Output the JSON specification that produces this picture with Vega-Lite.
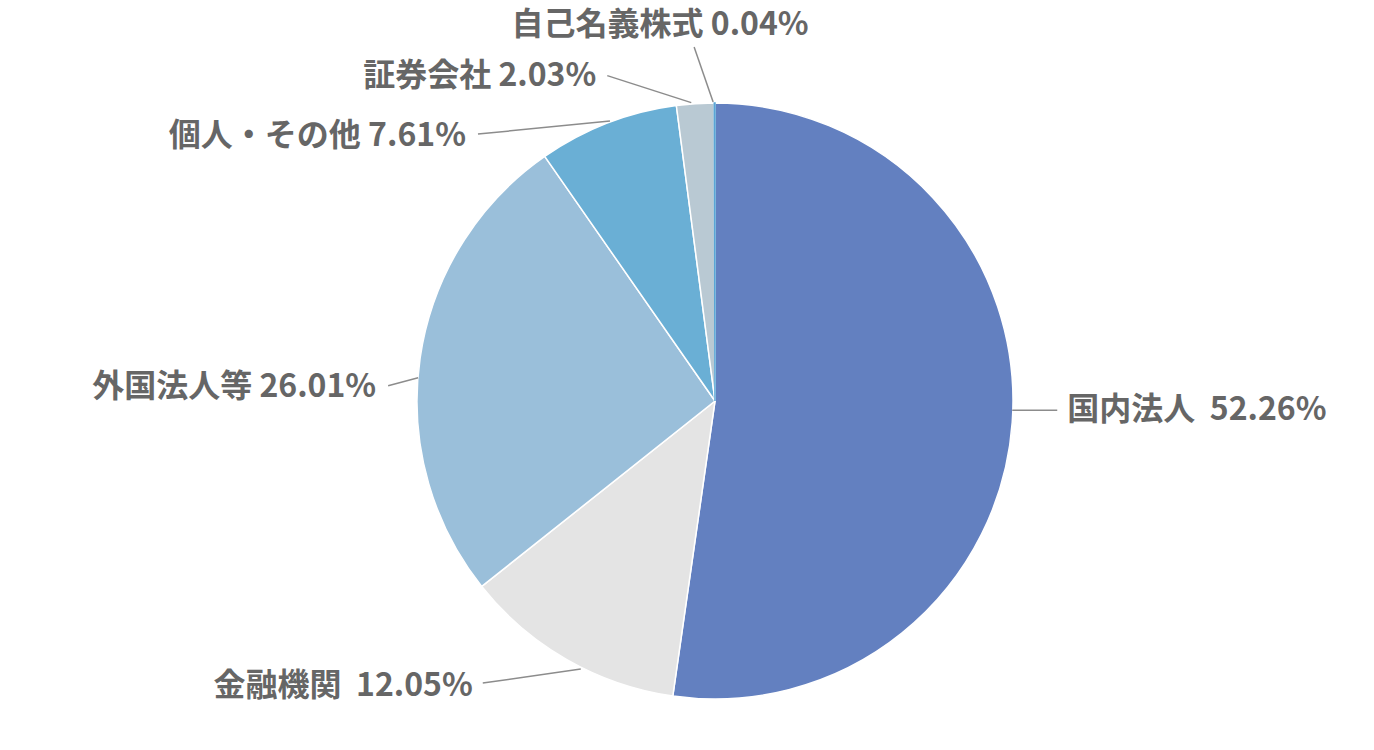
{
  "$schema": "https://vega.github.io/schema/vega-lite/v6.json",
  "width": 1318,
  "height": 698,
  "padding": {"left": 56, "top": 52, "right": 0, "bottom": 0},
  "autosize": {"type": "none"},
  "background": "white",
  "config": {
    "view": {"stroke": null},
    "text": {"font": "Noto Sans CJK JP", "fontSize": 32, "fontWeight": "bold", "fill": "#666666", "baseline": "middle"},
    "rule": {"stroke": "#8c8c8c", "strokeWidth": 1.5}
  },
  "data": {
    "values": [
      {"category": "国内法人", "value": 52.26, "order": 1, "label": "国内法人\u00a0 52.26%"},
      {"category": "金融機関", "value": 12.05, "order": 2, "label": "金融機関\u00a0 12.05%"},
      {"category": "外国法人等", "value": 26.01, "order": 3, "label": "外国法人等 26.01%"},
      {"category": "個人・その他", "value": 7.61, "order": 4, "label": "個人・その他 7.61%"},
      {"category": "証券会社", "value": 2.03, "order": 5, "label": "証券会社 2.03%"},
      {"category": "自己名義株式", "value": 0.04, "order": 6, "label": "自己名義株式 0.04%"}
    ]
  },
  "transform": [
    {"window": [{"op": "sum", "field": "value", "as": "cum"}], "sort": [{"field": "order"}], "frame": [null, 0]},
    {"calculate": "(datum.cum - datum.value / 2) * 2 * PI / 100", "as": "ang"},
    {"calculate": "298 * sin(datum.ang)", "as": "ex"},
    {"calculate": "298 * cos(datum.ang)", "as": "ey"}
  ],
  "layer": [
    {
      "mark": {"type": "arc", "outerRadius": 298, "strokeWidth": 1.5},
      "encoding": {
        "theta": {"field": "value", "type": "quantitative", "stack": true},
        "order": {"field": "order", "type": "quantitative", "sort": "ascending"},
        "color": {
          "field": "category", "type": "nominal", "legend": null,
          "scale": {
            "domain": ["国内法人", "金融機関", "外国法人等", "個人・その他", "証券会社", "自己名義株式"],
            "range": ["#6380c0", "#e4e4e4", "#9abfda", "#6aafd5", "#b9c9d3", "#5aa5d5"]
          }
        },
        "stroke": {"condition": {"test": "datum.category === '自己名義株式'", "value": "#5aa5d5"}, "value": "white"}
      }
    },
    {
      "transform": [{"filter": "datum.category === '国内法人'"}],
      "mark": {"type": "rule", "yOffset": -12, "x2Offset": 45, "y2Offset": -12},
      "encoding": {
        "x": {"field": "ex", "type": "quantitative", "scale": {"domain": [-659, 659], "nice": false, "zero": false}, "axis": null},
        "y": {"field": "ey", "type": "quantitative", "scale": {"domain": [-349, 349], "nice": false, "zero": false}, "axis": null},
        "x2": {"field": "ex"}, "y2": {"field": "ey"}
      }
    },
    {
      "transform": [{"filter": "datum.category === '金融機関'"}],
      "mark": {"type": "rule", "xOffset": 14, "yOffset": 9.5, "x2Offset": -84, "y2Offset": 23.5},
      "encoding": {
        "x": {"field": "ex", "type": "quantitative", "scale": {"domain": [-659, 659], "nice": false, "zero": false}, "axis": null},
        "y": {"field": "ey", "type": "quantitative", "scale": {"domain": [-349, 349], "nice": false, "zero": false}, "axis": null},
        "x2": {"field": "ex"}, "y2": {"field": "ey"}
      }
    },
    {
      "transform": [{"filter": "datum.category === '外国法人等'"}],
      "mark": {"type": "rule", "xOffset": -2, "yOffset": 20, "x2Offset": -32, "y2Offset": 28},
      "encoding": {
        "x": {"field": "ex", "type": "quantitative", "scale": {"domain": [-659, 659], "nice": false, "zero": false}, "axis": null},
        "y": {"field": "ey", "type": "quantitative", "scale": {"domain": [-349, 349], "nice": false, "zero": false}, "axis": null},
        "x2": {"field": "ex"}, "y2": {"field": "ey"}
      }
    },
    {
      "transform": [{"filter": "datum.category === '個人・その他'"}],
      "mark": {"type": "rule", "xOffset": 2.5, "yOffset": -2, "x2Offset": -129.5, "y2Offset": 11},
      "encoding": {
        "x": {"field": "ex", "type": "quantitative", "scale": {"domain": [-659, 659], "nice": false, "zero": false}, "axis": null},
        "y": {"field": "ey", "type": "quantitative", "scale": {"domain": [-349, 349], "nice": false, "zero": false}, "axis": null},
        "x2": {"field": "ex"}, "y2": {"field": "ey"}
      }
    },
    {
      "transform": [{"filter": "datum.category === '証券会社'"}],
      "mark": {"type": "rule", "xOffset": -4, "yOffset": -1, "x2Offset": -88, "y2Offset": -28},
      "encoding": {
        "x": {"field": "ex", "type": "quantitative", "scale": {"domain": [-659, 659], "nice": false, "zero": false}, "axis": null},
        "y": {"field": "ey", "type": "quantitative", "scale": {"domain": [-349, 349], "nice": false, "zero": false}, "axis": null},
        "x2": {"field": "ex"}, "y2": {"field": "ey"}
      }
    },
    {
      "transform": [{"filter": "datum.category === '自己名義株式'"}],
      "mark": {"type": "rule", "xOffset": -1.5, "yOffset": -1, "x2Offset": -20.5, "y2Offset": -56},
      "encoding": {
        "x": {"field": "ex", "type": "quantitative", "scale": {"domain": [-659, 659], "nice": false, "zero": false}, "axis": null},
        "y": {"field": "ey", "type": "quantitative", "scale": {"domain": [-349, 349], "nice": false, "zero": false}, "axis": null},
        "x2": {"field": "ex"}, "y2": {"field": "ey"}
      }
    },
    {
      "transform": [{"filter": "datum.category === '国内法人'"}],
      "mark": {"type": "text", "align": "left", "dx": 55, "dy": -12},
      "encoding": {
        "x": {"field": "ex", "type": "quantitative", "scale": {"domain": [-659, 659], "nice": false, "zero": false}, "axis": null},
        "y": {"field": "ey", "type": "quantitative", "scale": {"domain": [-349, 349], "nice": false, "zero": false}, "axis": null},
        "text": {"field": "label"}
      }
    },
    {
      "transform": [{"filter": "datum.category === '金融機関'"}],
      "mark": {"type": "text", "align": "right", "dx": -94, "dy": 26},
      "encoding": {
        "x": {"field": "ex", "type": "quantitative", "scale": {"domain": [-659, 659], "nice": false, "zero": false}, "axis": null},
        "y": {"field": "ey", "type": "quantitative", "scale": {"domain": [-349, 349], "nice": false, "zero": false}, "axis": null},
        "text": {"field": "label"}
      }
    },
    {
      "transform": [{"filter": "datum.category === '外国法人等'"}],
      "mark": {"type": "text", "align": "right", "dx": -44, "dy": 29},
      "encoding": {
        "x": {"field": "ex", "type": "quantitative", "scale": {"domain": [-659, 659], "nice": false, "zero": false}, "axis": null},
        "y": {"field": "ey", "type": "quantitative", "scale": {"domain": [-349, 349], "nice": false, "zero": false}, "axis": null},
        "text": {"field": "label"}
      }
    },
    {
      "transform": [{"filter": "datum.category === '個人・その他'"}],
      "mark": {"type": "text", "align": "right", "dx": -141.5, "dy": 13},
      "encoding": {
        "x": {"field": "ex", "type": "quantitative", "scale": {"domain": [-659, 659], "nice": false, "zero": false}, "axis": null},
        "y": {"field": "ey", "type": "quantitative", "scale": {"domain": [-349, 349], "nice": false, "zero": false}, "axis": null},
        "text": {"field": "label"}
      }
    },
    {
      "transform": [{"filter": "datum.category === '証券会社'"}],
      "mark": {"type": "text", "align": "right", "dx": -99, "dy": -28},
      "encoding": {
        "x": {"field": "ex", "type": "quantitative", "scale": {"domain": [-659, 659], "nice": false, "zero": false}, "axis": null},
        "y": {"field": "ey", "type": "quantitative", "scale": {"domain": [-349, 349], "nice": false, "zero": false}, "axis": null},
        "text": {"field": "label"}
      }
    },
    {
      "transform": [{"filter": "datum.category === '自己名義株式'"}],
      "mark": {"type": "text", "align": "center", "dx": -54.5, "dy": -78},
      "encoding": {
        "x": {"field": "ex", "type": "quantitative", "scale": {"domain": [-659, 659], "nice": false, "zero": false}, "axis": null},
        "y": {"field": "ey", "type": "quantitative", "scale": {"domain": [-349, 349], "nice": false, "zero": false}, "axis": null},
        "text": {"field": "label"}
      }
    }
  ]
}
